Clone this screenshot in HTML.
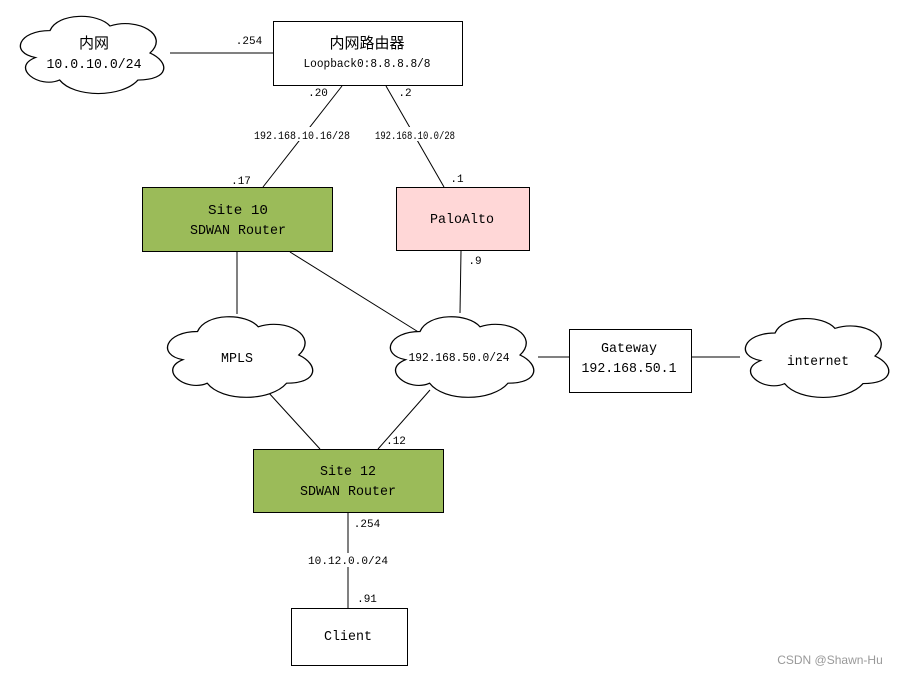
<!DOCTYPE html>
<html><head><meta charset="utf-8"><style>
body{margin:0;background:#fff;width:901px;height:674px;overflow:hidden}
svg text{font-family:"Liberation Mono","Noto Sans CJK SC",monospace;fill:#000}
</style></head><body>
<svg width="901" height="674" viewBox="0 0 901 674" xmlns="http://www.w3.org/2000/svg">
<defs>
<path id="c" d="M30 20 C6 20 0 40 19.2 44 C0 52.8 21.6 72 37.2 64 C48 80 84 80 96 64 C120 64 120 48 105 40 C120 24 96 8 75 16 C66 4 36 4 30 20 Z"/>
</defs>
<g stroke="#000" stroke-width="1" fill="none">
<line x1="170" y1="53" x2="273" y2="53"/>
<line x1="342" y1="86" x2="263" y2="187"/>
<line x1="386" y1="86" x2="444" y2="187"/>
<line x1="237" y1="252" x2="237" y2="314"/>
<line x1="290" y1="252" x2="420" y2="333"/>
<line x1="461" y1="251" x2="460" y2="313"/>
<line x1="538" y1="357" x2="569" y2="357"/>
<line x1="691" y1="357" x2="740" y2="357"/>
<line x1="268" y1="392" x2="320" y2="449"/>
<line x1="430" y1="390" x2="378" y2="449"/>
<line x1="348" y1="512" x2="348" y2="608"/>
</g>
<g fill="#fff">
<rect x="253" y="127" width="98" height="14"/>
<rect x="374" y="127" width="82" height="14"/>
<rect x="307" y="553" width="82" height="14"/>
</g>
<g fill="#fff" stroke="#000" stroke-width="1">
<svg x="10" y="8" width="160" height="90" viewBox="0 0 120 80" preserveAspectRatio="none" overflow="visible"><use href="#c" vector-effect="non-scaling-stroke"/></svg>
<svg x="157" y="308" width="162" height="94" viewBox="0 0 120 80" preserveAspectRatio="none" overflow="visible"><use href="#c" vector-effect="non-scaling-stroke"/></svg>
<svg x="380" y="308" width="160" height="94" viewBox="0 0 120 80" preserveAspectRatio="none" overflow="visible"><use href="#c" vector-effect="non-scaling-stroke"/></svg>
<svg x="735" y="310" width="160" height="92" viewBox="0 0 120 80" preserveAspectRatio="none" overflow="visible"><use href="#c" vector-effect="non-scaling-stroke"/></svg>
<rect x="273.5" y="21.5" width="189" height="64"/>
<rect x="142.5" y="187.5" width="190" height="64" fill="#9bbb59"/>
<rect x="396.5" y="187.5" width="133" height="63" fill="#ffd7d7"/>
<rect x="569.5" y="329.5" width="122" height="63"/>
<rect x="253.5" y="449.5" width="190" height="63" fill="#9bbb59"/>
<rect x="291.5" y="608.5" width="116" height="57"/>
</g>
<g text-anchor="middle" font-size="14" lengthAdjust="spacingAndGlyphs">
<text x="94" y="48" font-size="15">内网</text>
<text x="94" y="68" textLength="95" lengthAdjust="spacingAndGlyphs">10.0.10.0/24</text>
<text x="367" y="48" font-size="15">内网路由器</text>
<text x="367" y="67" font-size="12" textLength="127" lengthAdjust="spacingAndGlyphs">Loopback0:8.8.8.8/8</text>
<text x="238" y="214" textLength="60" lengthAdjust="spacingAndGlyphs">Site 10</text>
<text x="238" y="234" textLength="96" lengthAdjust="spacingAndGlyphs">SDWAN Router</text>
<text x="462" y="223" textLength="64" lengthAdjust="spacingAndGlyphs">PaloAlto</text>
<text x="237" y="362" textLength="32" lengthAdjust="spacingAndGlyphs">MPLS</text>
<text x="459" y="361" font-size="12" textLength="101" lengthAdjust="spacingAndGlyphs">192.168.50.0/24</text>
<text x="629" y="352" textLength="56" lengthAdjust="spacingAndGlyphs">Gateway</text>
<text x="629" y="372" textLength="95" lengthAdjust="spacingAndGlyphs">192.168.50.1</text>
<text x="818" y="365" textLength="62" lengthAdjust="spacingAndGlyphs">internet</text>
<text x="348" y="475" textLength="56" lengthAdjust="spacingAndGlyphs">Site 12</text>
<text x="348" y="495" textLength="96" lengthAdjust="spacingAndGlyphs">SDWAN Router</text>
<text x="348" y="640" textLength="48" lengthAdjust="spacingAndGlyphs">Client</text>
</g>
<g font-size="11" text-anchor="middle">
<text x="249" y="44">.254</text>
<text x="318" y="96">.20</text>
<text x="405" y="96">.2</text>
<text x="302" y="139" textLength="96" lengthAdjust="spacingAndGlyphs">192.168.10.16/28</text>
<text x="415" y="139" textLength="80" lengthAdjust="spacingAndGlyphs">192.168.10.0/28</text>
<text x="241" y="184">.17</text>
<text x="457" y="182">.1</text>
<text x="475" y="264">.9</text>
<text x="396" y="444">.12</text>
<text x="367" y="527">.254</text>
<text x="348" y="564" textLength="80" lengthAdjust="spacingAndGlyphs">10.12.0.0/24</text>
<text x="367" y="602">.91</text>
</g>
<text x="830" y="664" font-size="12" text-anchor="middle" style="font-family:'Liberation Sans',sans-serif;fill:#999">CSDN @Shawn-Hu</text>
</svg>
</body></html>
